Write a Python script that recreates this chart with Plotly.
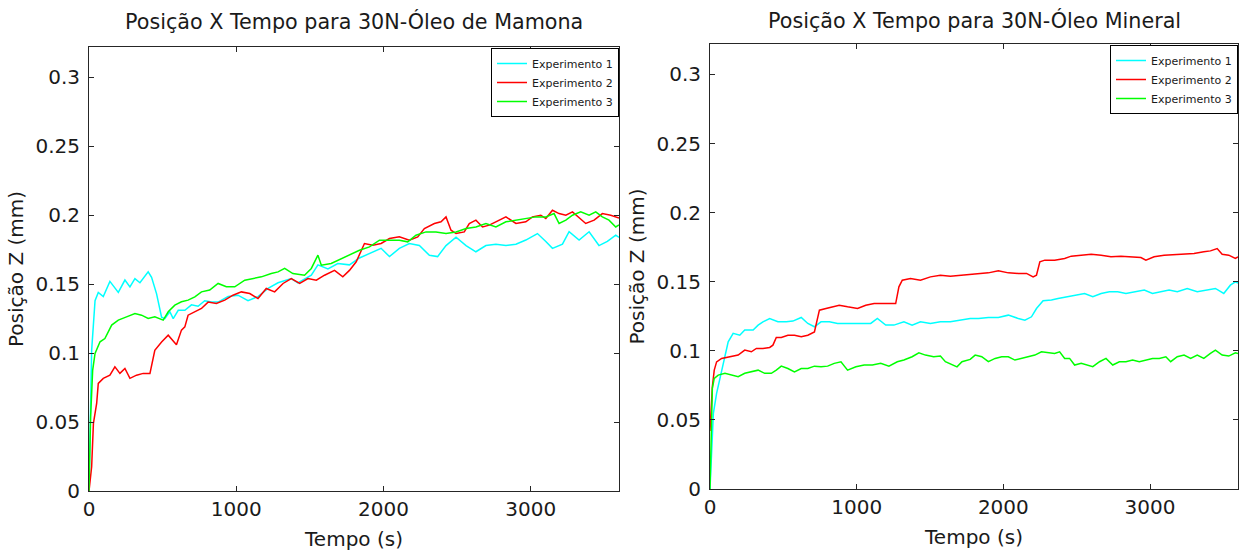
import plotly.graph_objects as go

# ---------------- data: left panel (Óleo de Mamona) ----------------
t_m1 = [0, 18, 41, 63, 97, 142, 199, 244, 278, 312, 346, 402, 425, 459, 493, 515, 549, 572, 606, 651,
        696, 741, 786, 832, 877, 945, 1012, 1080, 1148, 1216, 1284, 1374, 1419, 1510, 1555, 1623, 1690,
        1769, 1837, 1905, 1984, 2041, 2108, 2176, 2244, 2312, 2368, 2425, 2493, 2561, 2628, 2696, 2764,
        2832, 2900, 2967, 3046, 3103, 3148, 3216, 3261, 3329, 3397, 3464, 3521, 3578, 3600]
z_m1 = [0, 0.102, 0.138, 0.144, 0.141, 0.152, 0.144, 0.153, 0.148, 0.154, 0.151, 0.159, 0.155, 0.143,
        0.126, 0.125, 0.130, 0.125, 0.131, 0.131, 0.135, 0.134, 0.138, 0.137, 0.137, 0.141, 0.142, 0.138,
        0.141, 0.147, 0.151, 0.154, 0.151, 0.1565, 0.164, 0.161, 0.165, 0.164, 0.169, 0.172, 0.176, 0.170,
        0.176, 0.1795, 0.178, 0.171, 0.170, 0.178, 0.184, 0.178, 0.1735, 0.178, 0.179, 0.178, 0.179, 0.182,
        0.1867, 0.181, 0.176, 0.179, 0.188, 0.182, 0.188, 0.178, 0.181, 0.1855, 0.184]

t_m2 = [0, 18, 30, 52, 63, 97, 142, 176, 210, 244, 278, 323, 368, 414, 447, 493, 538, 572, 594, 628,
        651, 673, 719, 764, 809, 865, 922, 978, 1035, 1092, 1148, 1204, 1261, 1318, 1374, 1431, 1487,
        1544, 1600, 1668, 1724, 1769, 1815, 1871, 1928, 1984, 2041, 2108, 2176, 2233, 2278, 2346, 2391,
        2425, 2459, 2493, 2549, 2583, 2628, 2673, 2719, 2764, 2832, 2900, 2967, 3012, 3069, 3103, 3148,
        3193, 3239, 3284, 3340, 3374, 3431, 3487, 3544, 3600]
z_m2 = [0, 0.0176, 0.049, 0.0635, 0.078, 0.0817, 0.084, 0.090, 0.0853, 0.0889, 0.0817, 0.084, 0.0853,
        0.0853, 0.102, 0.108, 0.113, 0.109, 0.106, 0.1167, 0.119, 0.1275, 0.130, 0.1324, 0.137, 0.136,
        0.1384, 0.142, 0.1444, 0.1432, 0.1396, 0.1469, 0.1444, 0.1505, 0.1541, 0.1505, 0.1541, 0.1529,
        0.1565, 0.160, 0.1553, 0.160, 0.1662, 0.1795, 0.1783, 0.1795, 0.1831, 0.1843, 0.1819, 0.1843,
        0.1903, 0.194, 0.1952, 0.1988, 0.1891, 0.1867, 0.1879, 0.194, 0.1964, 0.1915, 0.1928, 0.1952,
        0.1988, 0.194, 0.1952, 0.1988, 0.200, 0.1976, 0.2036, 0.2012, 0.200, 0.2024, 0.1976, 0.194,
        0.1964, 0.2012, 0.200, 0.198]

t_m3 = [0, 11, 25, 41, 75, 108, 154, 199, 255, 312, 357, 402, 447, 504, 538, 583, 628, 673, 719, 764,
        820, 877, 933, 990, 1058, 1114, 1171, 1238, 1284, 1329, 1385, 1464, 1510, 1555, 1578, 1645, 1713,
        1769, 1837, 1905, 1973, 2041, 2108, 2165, 2221, 2289, 2357, 2425, 2493, 2561, 2628, 2696, 2764,
        2832, 2900, 2967, 3035, 3103, 3159, 3193, 3239, 3284, 3340, 3397, 3442, 3487, 3532, 3578, 3600]
z_m3 = [0, 0.0539, 0.0877, 0.0998, 0.1082, 0.1106, 0.1203, 0.1239, 0.1263, 0.1287, 0.1275, 0.1251,
        0.1263, 0.1239, 0.1300, 0.1348, 0.1372, 0.1384, 0.1408, 0.1444, 0.1457, 0.1505, 0.1481, 0.1481,
        0.1529, 0.1541, 0.1553, 0.1577, 0.1589, 0.1614, 0.1577, 0.1565, 0.1614, 0.171, 0.1638, 0.165,
        0.1686, 0.171, 0.1746, 0.177, 0.1819, 0.1819, 0.1819, 0.1807, 0.1855, 0.1879, 0.1879, 0.1867,
        0.1879, 0.1903, 0.1915, 0.194, 0.1915, 0.1952, 0.1964, 0.1976, 0.1988, 0.1988, 0.2012, 0.194,
        0.1964, 0.200, 0.2024, 0.200, 0.2024, 0.1988, 0.1964, 0.1915, 0.193]

# ---------------- data: right panel (Óleo Mineral) ----------------
t_n1 = [0, 11, 23, 45, 79, 102, 124, 158, 203, 237, 294, 328, 361, 407, 463, 520, 565, 622, 667, 712,
        757, 814, 870, 927, 983, 1040, 1096, 1141, 1198, 1254, 1322, 1378, 1435, 1503, 1571, 1639, 1706,
        1774, 1831, 1898, 1966, 2034, 2102, 2147, 2192, 2226, 2271, 2328, 2373, 2441, 2508, 2554, 2610,
        2667, 2723, 2780, 2836, 2893, 2961, 3017, 3073, 3130, 3186, 3254, 3322, 3390, 3446, 3503, 3548,
        3582, 3600]
z_n1 = [0, 0.0282, 0.0547, 0.0692, 0.086, 0.0957, 0.1065, 0.1126, 0.1113, 0.115, 0.115, 0.1186, 0.121,
        0.1234, 0.121, 0.121, 0.1215, 0.1241, 0.1198, 0.1174, 0.121, 0.121, 0.1198, 0.1198, 0.1198, 0.1198,
        0.1198, 0.1234, 0.1186, 0.1186, 0.121, 0.1186, 0.121, 0.1198, 0.121, 0.121, 0.1222, 0.1234, 0.1234,
        0.1241, 0.1241, 0.1258, 0.1234, 0.1222, 0.1246, 0.1306, 0.1362, 0.1367, 0.1379, 0.1391, 0.1403,
        0.1415, 0.1391, 0.1415, 0.1427, 0.1427, 0.1415, 0.1427, 0.1439, 0.1415, 0.1427, 0.1439, 0.1427,
        0.1451, 0.1427, 0.1439, 0.1451, 0.1415, 0.1475, 0.1499, 0.149]

t_n2 = [0, 8, 16, 29, 45, 79, 113, 147, 192, 237, 282, 316, 361, 407, 429, 452, 486, 531, 576, 622, 667,
        712, 730, 746, 791, 836, 881, 938, 1006, 1062, 1119, 1175, 1220, 1266, 1288, 1311, 1367, 1435,
        1503, 1571, 1639, 1706, 1774, 1831, 1898, 1966, 2034, 2102, 2158, 2203, 2226, 2249, 2283, 2350,
        2418, 2463, 2531, 2599, 2667, 2734, 2802, 2870, 2938, 2972, 3028, 3096, 3164, 3232, 3300, 3367,
        3412, 3458, 3492, 3537, 3582, 3600]
z_n2 = [0.042, 0.055, 0.074, 0.086, 0.092, 0.0945, 0.0952, 0.0957, 0.0969, 0.1005, 0.0993, 0.1017,
        0.1017, 0.1024, 0.1041, 0.1097, 0.1097, 0.1113, 0.1113, 0.1101, 0.1113, 0.1137, 0.1222, 0.1294,
        0.1306, 0.1318, 0.133, 0.1318, 0.1306, 0.133, 0.1342, 0.1342, 0.1342, 0.1342, 0.1463, 0.1511,
        0.1523, 0.1511, 0.1535, 0.1547, 0.154, 0.1547, 0.1555, 0.156, 0.1564, 0.1579, 0.1564, 0.156, 0.156,
        0.1535, 0.1547, 0.1644, 0.1656, 0.1656, 0.1668, 0.1685, 0.1692, 0.1699, 0.1692, 0.168, 0.1685,
        0.168, 0.1675, 0.1656, 0.168, 0.1692, 0.1697, 0.1704, 0.1704, 0.1716, 0.1723, 0.174, 0.1699,
        0.1692, 0.1668, 0.168]

t_n3 = [0, 7, 16, 29, 56, 102, 147, 192, 237, 282, 328, 373, 418, 452, 486, 531, 576, 622, 667, 712,
        757, 802, 847, 893, 938, 995, 1051, 1107, 1164, 1220, 1277, 1322, 1378, 1424, 1469, 1525, 1571,
        1605, 1650, 1684, 1718, 1774, 1808, 1853, 1898, 1944, 1989, 2034, 2079, 2124, 2169, 2215, 2260,
        2305, 2350, 2384, 2418, 2452, 2486, 2531, 2576, 2610, 2656, 2700, 2746, 2791, 2836, 2881, 2927,
        2972, 3017, 3063, 3108, 3141, 3186, 3232, 3277, 3322, 3367, 3412, 3446, 3492, 3537, 3582, 3600]
z_n3 = [0, 0.045, 0.0728, 0.080, 0.0824, 0.0837, 0.0824, 0.0812, 0.0837, 0.0848, 0.086, 0.0837, 0.0837,
        0.086, 0.0889, 0.0872, 0.0848, 0.0872, 0.0872, 0.0889, 0.0884, 0.0889, 0.0909, 0.0921, 0.086,
        0.0884, 0.0897, 0.0897, 0.0909, 0.0889, 0.0921, 0.0933, 0.0957, 0.0986, 0.0969, 0.0957, 0.0962,
        0.0921, 0.0897, 0.0884, 0.0921, 0.0938, 0.0969, 0.0957, 0.0921, 0.0945, 0.0957, 0.0957, 0.0933,
        0.0945, 0.0957, 0.0969, 0.0993, 0.0986, 0.0981, 0.0993, 0.0945, 0.0945, 0.0897, 0.0909, 0.0897,
        0.0885, 0.0921, 0.0945, 0.0897, 0.0921, 0.0921, 0.0933, 0.0921, 0.0933, 0.0945, 0.0945, 0.0957,
        0.0921, 0.0957, 0.0969, 0.0945, 0.0969, 0.0945, 0.0981, 0.1005, 0.0969, 0.0962, 0.0986, 0.098]

series_names = ["Experimento 1", "Experimento 2", "Experimento 3"]
series_colors = ["#00FFFF", "#FF0000", "#00FF00"]
titles = ["Posição X Tempo para 30N-Óleo de Mamona", "Posição X Tempo para 30N-Óleo Mineral"]
x_title = "Tempo (s)"
y_title = "Posição Z (mm)"
x_tickvals = [0, 1000, 2000, 3000]
y_tickvals = [0, 0.05, 0.1, 0.15, 0.2, 0.25, 0.3]
y_ticktext = ["0", "0.05", "0.1", "0.15", "0.2", "0.25", "0.3"]

FONT = "DejaVu Sans"
TXT = "#1a1a1a"
fig = go.Figure()

left = [(t_m1, z_m1), (t_m2, z_m2), (t_m3, z_m3)]
right = [(t_n1, z_n1), (t_n2, z_n2), (t_n3, z_n3)]
for i, (t, z) in enumerate(left):
    fig.add_trace(go.Scatter(x=t, y=z, mode="lines", name=series_names[i],
                             line=dict(color=series_colors[i], width=1.5),
                             xaxis="x", yaxis="y", legend="legend"))
for i, (t, z) in enumerate(right):
    fig.add_trace(go.Scatter(x=t, y=z, mode="lines", name=series_names[i],
                             line=dict(color=series_colors[i], width=1.5),
                             xaxis="x2", yaxis="y2", legend="legend2"))

W, H = 1240, 552
ML, MR, MT, MB = 89, 2, 44, 61
PW, PH = W - ML - MR, H - MT - MB

def dx(px):  # px: window x coordinate
    return (px - ML) / PW

def dy(py):  # py: window y coordinate
    return (H - MB - py) / PH

axis_common = dict(showline=True, linecolor="#262626", linewidth=1, mirror="ticks",
                   ticks="inside", ticklen=5, tickcolor="#262626", showgrid=False,
                   zeroline=False, tickfont=dict(family=FONT, size=20, color=TXT))
title_font = dict(family=FONT, size=20, color=TXT)

fig.update_layout(
    width=W, height=H,
    margin=dict(l=ML, r=MR, t=MT, b=MB),
    paper_bgcolor="white", plot_bgcolor="white",
    showlegend=True,
    xaxis=dict(domain=[dx(89), dx(619)], range=[0, 3600], tickvals=x_tickvals,
               title=dict(text=x_title, font=title_font, standoff=11),
               anchor="y", **axis_common),
    yaxis=dict(domain=[dy(491), dy(47)], range=[0, 0.322], tickvals=y_tickvals, ticktext=y_ticktext,
               title=dict(text=y_title, font=title_font, standoff=6),
               anchor="x", ticklabelstandoff=4, **axis_common),
    xaxis2=dict(domain=[dx(710), dx(1238)], range=[0, 3600], tickvals=x_tickvals,
                title=dict(text=x_title, font=title_font, standoff=11),
                anchor="y2", **axis_common),
    yaxis2=dict(domain=[dy(489), dy(44)], range=[0, 0.322], tickvals=y_tickvals, ticktext=y_ticktext,
                title=dict(text=y_title, font=title_font, standoff=6),
                anchor="x2", ticklabelstandoff=4, **axis_common),
    legend=dict(x=dx(619), y=dy(48), xanchor="right", yanchor="top", xref="paper", yref="paper",
                bgcolor="white", bordercolor="#000000", borderwidth=1,
                font=dict(family=FONT, size=11, color=TXT), itemwidth=30, tracegroupgap=0),
    legend2=dict(x=dx(1238), y=dy(45), xanchor="right", yanchor="top", xref="paper", yref="paper",
                 bgcolor="white", bordercolor="#000000", borderwidth=1,
                 font=dict(family=FONT, size=11, color=TXT), itemwidth=30, tracegroupgap=0),
    annotations=[
        dict(text=titles[0], x=(dx(89) + dx(619)) / 2, y=dy(22), xref="paper", yref="paper",
             showarrow=False, xanchor="center", yanchor="middle",
             font=dict(family=FONT, size=20.7, color=TXT)),
        dict(text=titles[1], x=(dx(710) + dx(1238)) / 2, y=dy(20), xref="paper", yref="paper",
             showarrow=False, xanchor="center", yanchor="middle",
             font=dict(family=FONT, size=20.7, color=TXT)),
    ],
)

# remove the default page margin so the 1240x552 figure fills the window exactly
fig.write_html("out.html", config={"displayModeBar": False},
               post_script="document.body.style.margin='0';document.body.style.overflow='hidden';")
